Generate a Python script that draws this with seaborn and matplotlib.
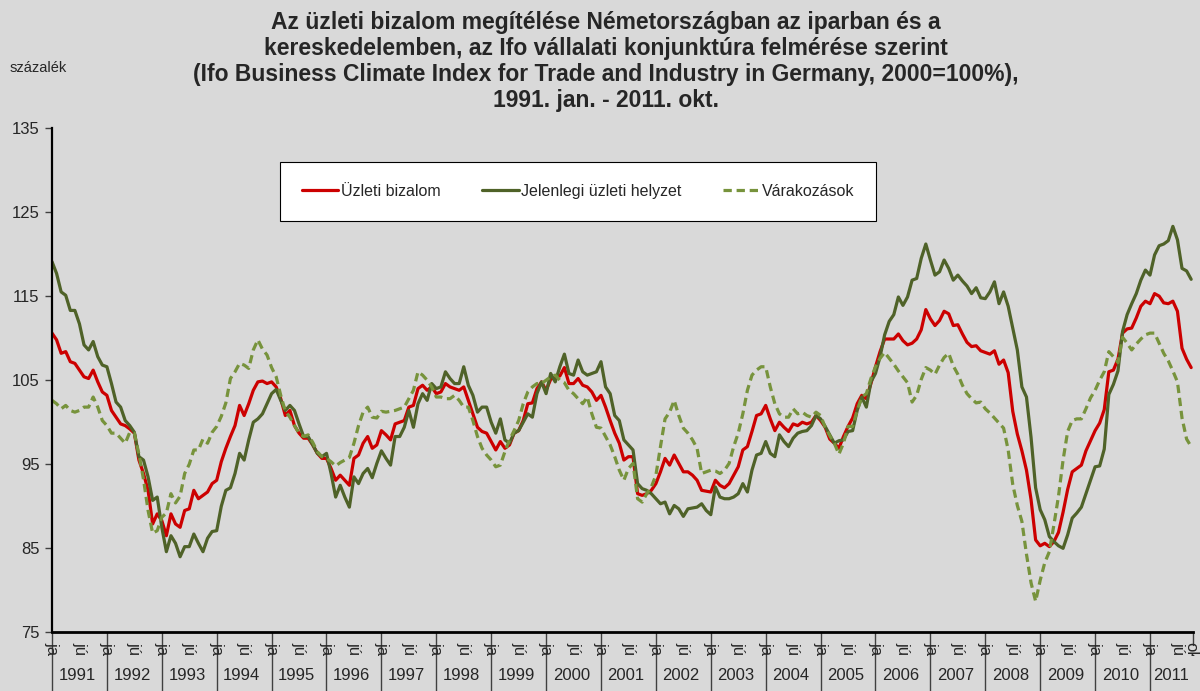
import numpy as np
import pandas as pd
import matplotlib
matplotlib.use("Agg")
import matplotlib.pyplot as plt
import seaborn as sns
from matplotlib.transforms import blended_transform_factory, Bbox

# Ifo index, 2000=100, monthly 1991 jan - 2011 okt
years = list(range(1991, 2012))
month_labels = {0: "jan", 6: "júl", 9: "okt"}
series_names = ["Üzleti bizalom", "Jelenlegi üzleti helyzet", "Várakozások"]

uzleti_bizalom = [
    110.6, 109.8, 108.2, 108.4, 107.2, 107.0, 106.2, 105.4, 105.2, 106.2, 104.8, 103.6,
    103.2, 101.4, 100.6, 99.8, 99.6, 99.2, 98.7, 95.5, 93.9, 91.9, 87.9, 89.1,
    88.3, 86.5, 89.1, 87.9, 87.5, 89.5, 89.7, 91.9, 90.9, 91.3, 91.7, 92.7,
    93.1, 95.3, 96.9, 98.3, 99.6, 102.0, 100.8, 102.2, 103.8, 104.8, 104.9, 104.6,
    104.8, 104.2, 102.8, 100.8, 101.4, 99.6, 98.7, 98.1, 98.1, 97.3, 96.3, 95.7,
    95.7, 94.5, 93.1, 93.7, 93.1, 92.5, 95.7, 96.1, 97.5, 98.3, 96.9, 97.3,
    99.0, 98.5, 97.9, 99.8, 100.0, 100.2, 101.8, 102.0, 104.0, 104.4, 103.8, 104.2,
    103.4, 103.6, 104.6, 104.2, 104.0, 103.8, 104.2, 102.6, 101.0, 99.4, 98.9, 98.7,
    97.7, 96.7, 97.7, 96.9, 97.3, 98.7, 99.0, 100.2, 102.2, 102.3, 104.0, 104.8,
    103.8, 105.1, 105.4, 105.5, 106.5, 104.6, 104.6, 105.2, 104.4, 104.2, 103.6, 102.6,
    103.2, 101.8, 100.2, 98.7, 97.5, 95.5, 95.9, 95.9, 91.5, 91.3, 91.5, 91.9,
    92.7, 94.1, 95.7, 94.9, 96.1, 95.1, 94.1, 94.1, 93.7, 93.1, 91.9, 91.8,
    91.7, 93.1, 92.5, 92.2, 92.7, 93.7, 94.7, 96.7, 97.1, 98.9, 100.8, 101.0,
    102.0, 100.4, 99.0, 100.0, 99.4, 98.9, 99.8, 99.6, 100.0, 99.8, 100.0, 100.8,
    100.2, 99.4, 98.0, 97.5, 96.9, 98.3, 99.5, 100.5, 102.2, 103.2, 102.8, 104.6,
    106.6, 108.4, 109.9, 109.9, 109.9, 110.5, 109.7, 109.2, 109.4, 109.9, 111.0, 113.4,
    112.3, 111.5, 112.1, 113.2, 112.9, 111.5, 111.6, 110.5, 109.5, 109.0, 109.1, 108.5,
    108.3, 108.1, 108.5, 106.9, 107.4, 105.9, 101.3, 98.6, 96.6, 94.3, 90.8, 86.0,
    85.3, 85.6, 85.2, 85.8, 86.9, 89.3, 92.0, 94.1, 94.5, 94.9, 96.6, 97.8,
    99.0, 99.9, 101.5, 106.0, 106.2, 107.5, 110.6, 111.1, 111.2, 112.4, 113.8, 114.4,
    114.1, 115.3, 115.0, 114.2, 114.1, 114.4, 113.2, 108.8, 107.5, 106.5,
]

jelenlegi_helyzet = [
    119.1, 117.7, 115.5, 115.1, 113.3, 113.3, 111.7, 109.2, 108.6, 109.6, 107.8, 106.8,
    106.6, 104.6, 102.4, 101.8, 100.2, 99.6, 98.8, 95.9, 95.5, 93.5, 90.7, 91.1,
    87.5, 84.6, 86.5, 85.6, 84.0, 85.2, 85.2, 86.7, 85.6, 84.6, 86.2, 87.0,
    87.1, 90.0, 91.9, 92.2, 93.9, 96.3, 95.5, 97.9, 100.0, 100.4, 101.0, 102.2,
    103.4, 103.9, 102.6, 101.4, 102.0, 101.4, 99.8, 98.3, 98.3, 97.3, 96.3, 95.9,
    96.3, 93.9, 91.1, 92.5, 91.1, 89.9, 93.5, 92.7, 93.9, 94.5, 93.4, 95.1,
    96.6, 95.7, 94.9, 98.3, 98.3, 99.4, 101.4, 99.4, 102.2, 103.4, 102.6, 104.6,
    104.0, 104.2, 106.0, 105.2, 104.6, 104.6, 106.6, 104.4, 103.2, 101.2, 101.8, 101.8,
    100.0, 98.7, 100.4, 97.9, 97.5, 98.7, 99.0, 100.0, 101.0, 100.6, 103.4, 104.8,
    103.4, 105.8, 104.8, 106.6, 108.1, 105.8, 105.6, 107.4, 106.0, 105.6, 105.8, 106.0,
    107.2, 104.2, 103.4, 100.8, 100.2, 97.9, 97.3, 96.7, 92.7, 92.1, 91.9, 91.5,
    90.9, 90.3, 90.5, 89.1, 90.1, 89.7, 88.8, 89.7, 89.8, 89.9, 90.3, 89.5,
    89.0, 92.3, 91.1, 90.9, 90.9, 91.1, 91.5, 92.7, 91.7, 94.3, 96.1, 96.3,
    97.7, 96.3, 95.9, 98.5, 97.7, 97.1, 98.1, 98.7, 98.9, 99.0, 99.6, 100.8,
    100.4, 99.5, 98.5, 97.5, 97.8, 97.9, 98.9, 99.0, 101.4, 103.0, 101.8, 104.8,
    105.8, 107.8, 110.4, 112.0, 112.8, 114.9, 113.9, 114.9, 116.9, 117.1, 119.5, 121.2,
    119.3, 117.5, 117.9, 119.3, 118.3, 116.9, 117.5, 116.8, 116.2, 115.3, 116.0, 114.8,
    114.7, 115.5, 116.7, 114.1, 115.5, 113.8, 111.2, 108.6, 104.2, 103.0, 98.2, 92.2,
    89.6, 88.4, 86.4, 85.8, 85.3, 85.0, 86.6, 88.6, 89.2, 89.9, 91.5, 93.1,
    94.7, 94.8, 96.8, 103.3, 104.5, 106.1, 110.8, 112.8, 114.1, 115.3, 116.9, 118.1,
    117.5, 119.9, 121.0, 121.2, 121.6, 123.3, 121.7, 118.3, 118.0, 117.0,
]

varakozasok = [
    102.6, 102.2, 101.6, 102.0, 101.4, 101.2, 101.4, 101.8, 101.8, 103.0, 101.8, 100.2,
    99.6, 98.7, 98.7, 98.1, 97.5, 98.8, 98.7, 96.2, 93.2, 89.5, 86.8, 87.1,
    88.7, 89.2, 91.5, 90.4, 91.2, 93.9, 95.0, 96.7, 96.7, 98.0, 97.5, 98.8,
    99.5, 100.7, 102.3, 105.2, 106.0, 107.0, 106.8, 106.4, 108.6, 109.8, 108.7, 108.0,
    106.5, 105.4, 103.2, 101.3, 100.6, 99.6, 98.7, 98.3, 98.5, 97.6, 96.5, 95.9,
    95.7, 95.3, 94.8, 95.2, 95.5, 95.8, 97.5, 99.6, 101.2, 101.8, 100.6, 100.5,
    101.3, 101.2, 101.3, 101.4, 101.6, 101.8, 102.8, 103.8, 106.0, 105.6, 105.0, 104.2,
    103.0, 103.0, 102.8, 102.8, 103.2, 102.6, 101.8, 101.8, 100.2, 98.3, 96.9, 96.1,
    95.5, 94.7, 94.9, 96.5, 97.9, 99.0, 100.2, 102.2, 103.6, 104.2, 104.6, 104.6,
    105.0, 105.4, 105.6, 105.0, 104.7, 103.8, 103.4, 102.8, 102.2, 103.0, 101.0, 99.4,
    99.3, 98.3, 97.3, 95.9, 94.3, 93.1, 94.5, 95.1, 90.9, 90.5, 91.5, 92.3,
    93.7, 97.1, 100.4, 101.2, 102.6, 100.8, 99.3, 98.7, 97.9, 96.9, 93.9, 94.1,
    94.3, 94.2, 93.9, 94.3, 95.1, 97.1, 98.7, 101.0, 103.8, 105.6, 106.2, 106.6,
    106.6, 104.2, 102.2, 101.0, 100.6, 100.6, 101.6, 101.0, 101.2, 100.8, 100.6, 101.2,
    100.8, 99.4, 98.4, 97.5, 96.2, 97.5, 99.5, 99.5, 101.4, 103.0, 103.4, 105.2,
    106.6, 107.6, 108.3, 107.6, 106.9, 106.1, 105.4, 104.7, 102.4, 103.2, 105.1, 106.5,
    106.2, 105.7, 106.8, 107.7, 108.2, 106.7, 105.7, 104.4, 103.4, 102.8, 102.3, 102.4,
    101.6, 101.1, 100.5, 99.9, 99.3, 96.7, 92.6, 90.1, 88.2, 84.3, 80.9, 78.7,
    81.2, 83.3, 84.6, 87.8, 91.2, 95.5, 98.9, 100.2, 100.4, 100.4, 101.6, 102.9,
    103.8, 105.0, 106.0, 108.4, 107.8, 107.1, 110.1, 109.4, 108.6, 109.3, 109.9, 110.4,
    110.6, 110.6, 109.4, 108.2, 107.3, 106.1, 104.8, 100.5, 98.0, 97.1,
]

n = len(uzleti_bizalom)
df = pd.DataFrame({
    "idx": np.arange(n),
    series_names[0]: uzleti_bizalom,
    series_names[1]: jelenlegi_helyzet,
    series_names[2]: varakozasok,
})

BG = "#D9D9D9"
RED = "#CC0000"
DARK_GREEN = "#4F6228"
LIGHT_GREEN = "#77933C"

sns.set_style("white")
plt.rcParams["font.family"] = ["Liberation Sans", "DejaVu Sans"]

W, H = 1200, 691
fig = plt.figure(figsize=(W / 100, H / 100), dpi=100, facecolor=BG)
ax_left, ax_right, ax_top, ax_bottom = 52, 1193, 128, 632.4
ax = fig.add_axes([ax_left / W, 1 - ax_bottom / H,
                   (ax_right - ax_left) / W, (ax_bottom - ax_top) / H])
ax.set_facecolor(BG)

sns.lineplot(data=df, x="idx", y=series_names[0], color=RED, linewidth=2.3,
             ax=ax, label=series_names[0])
sns.lineplot(data=df, x="idx", y=series_names[1], color=DARK_GREEN, linewidth=2.3,
             ax=ax, label=series_names[1])
sns.lineplot(data=df, x="idx", y=series_names[2], color=LIGHT_GREEN, linewidth=2.3,
             linestyle=(0, (2.6, 1.5)), ax=ax, label=series_names[2])

xmax = (n - 1) + 0.4
ax.set_xlim(0, xmax)
ax.set_ylim(75, 135)
ax.set_yticks(range(75, 136, 10))
ax.set_xticks([])
ax.set_xlabel("")
ax.set_ylabel("")
ax.tick_params(axis="y", direction="out", length=5, width=1, color="#404040",
               labelsize=12, pad=4, left=True)
for s in ["top", "right"]:
    ax.spines[s].set_visible(False)
ax.spines["left"].set_color("black")
ax.spines["left"].set_linewidth(1.6)
ax.spines["bottom"].set_color("black")
ax.spines["bottom"].set_linewidth(2)

# category axis below: year separators, month labels, year labels
trans = blended_transform_factory(ax.transData, ax.transAxes)
axh = ax_bottom - ax_top
sep_bottom = -(H - ax_bottom) / axh
for k, yr in enumerate(years):
    x0 = 12 * k
    ax.plot([x0, x0], [0, sep_bottom], transform=trans, clip_on=False,
            color="#404040", lw=1)
    xc = x0 + 5.5 if yr != years[-1] else (x0 + xmax) / 2
    ax.text(xc, -(676 - ax_bottom) / axh, str(yr), transform=trans,
            ha="center", va="center", fontsize=12)
ax.plot([xmax, xmax], [0, -13 / axh], transform=trans, clip_on=False,
        color="#404040", lw=1)

# month labels are cut off by the year row, only their first glyph shows
clip = Bbox.from_extents(0, H - 656, W, H - 640)
for i in range(n):
    m = i % 12
    if m in (0, 6) or i == n - 1:
        t = ax.text(i, -(642 - ax_bottom) / axh, month_labels.get(m, "okt"),
                    transform=trans, rotation=270, ha="center", va="top",
                    fontsize=12)
        t.set_clip_on(True)
        t.set_clip_box(clip)

leg = ax.legend(loc="center", bbox_to_anchor=(578 / W, 1 - 191.5 / H),
                bbox_transform=fig.transFigure, ncol=3, frameon=True,
                fancybox=False, edgecolor="black", facecolor="white",
                framealpha=1, fontsize=11.5, handlelength=2.3,
                handletextpad=0.15, columnspacing=2.6, borderpad=1.35)
leg.get_frame().set_linewidth(0.8)

title = ("Az üzleti bizalom megítélése Németországban az iparban és a\n"
         "kereskedelemben, az Ifo vállalati konjunktúra felmérése szerint\n"
         "(Ifo Business Climate Index for Trade and Industry in Germany, 2000=100%),\n"
         "1991. jan. - 2011. okt.")
fig.text(0.505, 1 - 11 / H, title, ha="center", va="top", fontsize=16.5,
         fontweight="bold", linespacing=1.16)
fig.text(10 / W, 1 - 68 / H, "százalék", ha="left", va="center", fontsize=10.5)

fig.savefig("out.png", dpi=100, facecolor=BG)
